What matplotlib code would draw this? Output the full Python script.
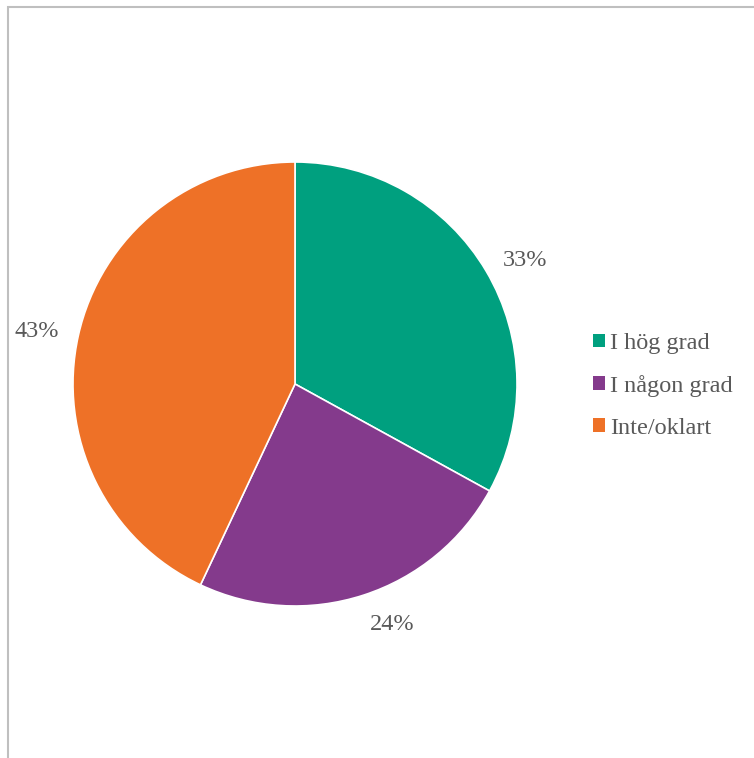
import matplotlib
matplotlib.use("Agg")
import numpy as np
import matplotlib.pyplot as plt
from matplotlib.patches import Patch, Rectangle

categories = ["I hög grad", "I någon grad", "Inte/oklart"]
values = [33, 24, 43]
colors = ["#00A07F", "#843A8C", "#EE7127"]
text_color = "#595959"

W, H = 754, 758
plt.rcParams['font.family'] = ['Liberation Serif', 'DejaVu Serif']
fig = plt.figure(figsize=(W / 100, H / 100), dpi=100)
ax = fig.add_axes([0, 0, 1, 1])

wedges, texts = ax.pie(
    values, colors=colors, startangle=90, counterclock=False,
    wedgeprops=dict(linewidth=1.2, edgecolor="white"),
)

# outside-end data labels, Excel-like placement
total = sum(values)
label_dist = 1.09
for w, v in zip(wedges, values):
    theta = np.deg2rad((w.theta1 + w.theta2) / 2)
    c, s = np.cos(theta), np.sin(theta)
    ha = 'left' if c > 0.05 else ('right' if c < -0.05 else 'center')
    va = 'bottom' if s > 0.7 else ('top' if s < -0.7 else 'center')
    ax.text(label_dist * c, label_dist * s, f"{v / total * 100:.0f}%",
            ha=ha, va=va, color=text_color, fontsize=17.5,
            family='Liberation Serif')

cx, cy, r = 295, 384, 222
ax.set_xlim(-cx / r, (W - cx) / r)
ax.set_ylim(-(H - cy) / r, cy / r)
ax.set_aspect('equal', adjustable='box')
ax.axis('off')

# border (top and left visible)
fig.patches.append(Rectangle((8 / W, -0.1), 1.2, 1 - 7 / H + 0.1,
                             transform=fig.transFigure, fill=False,
                             edgecolor="#BFBFBF", linewidth=1.5))

handles = [Patch(facecolor=c, edgecolor='none') for c in colors]
fig.legend(handles, categories, loc='center left',
           bbox_to_anchor=(593 / W, 1 - 386 / H), frameon=False,
           borderaxespad=0, borderpad=0,
           prop=dict(family='Liberation Serif', size=17.5),
           labelcolor=text_color, handlelength=0.49, handleheight=0.49,
           handletextpad=0.22, labelspacing=0.86)

fig.savefig("out.png", dpi=100)
